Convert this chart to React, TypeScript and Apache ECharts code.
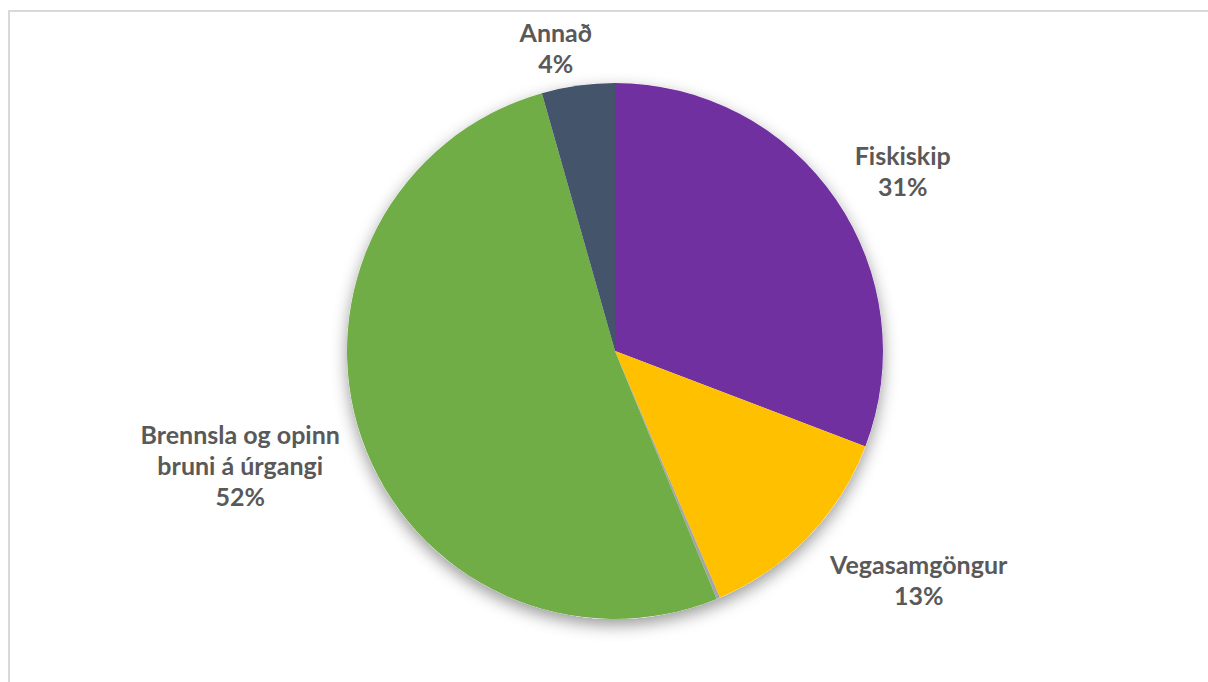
import React, { useEffect, useRef } from "react";
import * as echarts from "echarts";

const categories = ["Fiskiskip", "Vegasamgöngur", "", "Brennsla og opinn\nbruni á úrgangi", "Annað"];
const values = [30.8, 12.8, 0.2, 51.8, 4.4];
const colors = ["#7030A0", "#FFC000", "#A5A5A5", "#70AD47", "#44546A"];
const labelLengths = [51, 62, 0, 82, 38];
const labelLengths2 = [25, 66, 0, 44, 17];

export default function App() {
  const ref = useRef<HTMLDivElement>(null);
  useEffect(() => {
    if (!ref.current) return;
    const chart = echarts.init(ref.current, undefined, { renderer: "svg" });
    const data = categories.map((name, i) => ({
      name,
      value: values[i],
      itemStyle: { color: colors[i] },
      label: { show: name !== "" },
      labelLine: { length: labelLengths[i], length2: labelLengths2[i] },
    }));
    chart.setOption({
      animation: false,
      backgroundColor: "#ffffff",
      graphic: [
        { type: "line", shape: { x1: 8, y1: 11, x2: 1208, y2: 11 }, style: { stroke: "#D9D9D9", lineWidth: 2 } },
        { type: "line", shape: { x1: 9, y1: 10, x2: 9, y2: 682 }, style: { stroke: "#D9D9D9", lineWidth: 2 } },
      ],
      series: [
        {
          type: "pie",
          silent: true,
          center: [615, 351],
          radius: 268,
          z: 1,
          label: { show: false },
          labelLine: { show: false },
          data: [{ value: 1, itemStyle: { color: "#ffffff", shadowBlur: 16, shadowOffsetY: 6, shadowColor: "rgba(0,0,0,0.4)" } }],
        },
        {
          type: "pie",
          center: [615, 351],
          radius: 268,
          startAngle: 90,
          clockwise: true,
          z: 2,
          avoidLabelOverlap: false,
          label: {
            position: "outside",
            distanceToLabelLine: 0,
            color: "#595959",
            fontFamily: "Lato",
            fontWeight: "bold",
            fontSize: 25,
            lineHeight: 31,
            formatter: (p: any) => `${p.name}\n${Math.round(p.percent)}%`,
          },
          labelLine: { show: false },
          labelLayout: { align: "center" },
          itemStyle: { borderWidth: 0 },
          data,
        },
      ],
    });
    return () => chart.dispose();
  }, []);
  return <div ref={ref} style={{ position: "absolute", left: 0, top: 0, width: 1208, height: 682 }} />;
}
